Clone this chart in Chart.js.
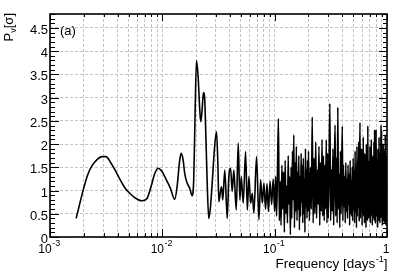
<!DOCTYPE html>
<html>
<head>
<meta charset="utf-8">
<script src="https://cdn.jsdelivr.net/npm/chart.js@4/dist/chart.umd.min.js"></script>
<style>
  html, body { margin: 0; padding: 0; background: #fff; }
</style>
</head>
<body>
<canvas id="chart" width="399" height="273"></canvas>
<script>
// smooth part of the periodogram (f < 0.1 d^-1)
const lowFreq = [
  0.00171, 0.00185, 0.00198, 0.00215, 0.00236, 0.00261, 0.00290, 0.00316, 0.00343, 0.00380,
  0.00422, 0.00467, 0.00518, 0.00574, 0.00659, 0.00730, 0.00793, 0.00849, 0.00916, 0.00994,
  0.01086, 0.01179, 0.01288, 0.01353, 0.01418, 0.01469, 0.01531, 0.01582, 0.01662, 0.01753,
  0.01841, 0.01902, 0.01942, 0.02012, 0.02083, 0.02153, 0.02198, 0.02260, 0.02323, 0.02386,
  0.02437, 0.02506, 0.02589, 0.02683, 0.02794, 0.02911, 0.03034, 0.03120, 0.03184, 0.0330,
  0.0337, 0.0345, 0.0360, 0.0378, 0.0391, 0.0405, 0.0419, 0.0433, 0.0455, 0.0474,
  0.0490, 0.0504, 0.0525, 0.0551, 0.0571, 0.0590, 0.0611, 0.0632, 0.0653, 0.0690,
  0.0724, 0.0750, 0.0776, 0.0802, 0.0830, 0.0855, 0.0880, 0.0910, 0.0940, 0.0970
];
const lowPower = [
  0.40, 0.74, 1.02, 1.32, 1.53, 1.66, 1.73, 1.73, 1.62, 1.44,
  1.23, 1.05, 0.93, 0.84, 0.78, 0.83, 1.08, 1.34, 1.48, 1.41,
  1.23, 1.05, 0.81, 1.08, 1.59, 1.80, 1.66, 1.37, 1.16, 1.05,
  0.89, 1.23, 2.24, 3.80, 3.45, 2.74, 2.48, 2.74, 3.11, 2.95,
  2.23, 1.20, 0.40, 0.65, 1.25, 1.90, 2.27, 1.60, 0.76, 1.00,
  1.08, 0.80, 1.44, 0.40, 1.30, 1.48, 0.98, 1.44, 0.58, 2.02,
  0.80, 1.30, 0.73, 1.84, 0.58, 1.30, 0.73, 0.94, 0.51, 1.73,
  0.37, 1.23, 0.73, 1.16, 0.60, 1.15, 0.55, 1.20, 0.70, 1.25
];

// noisy part (0.1 - 1 d^-1)
const highFreq = [
  0.100, 0.102, 0.104, 0.106, 0.108, 0.110, 0.112, 0.114, 0.116, 0.118,
  0.120, 0.122, 0.124, 0.126, 0.128, 0.130, 0.132, 0.134, 0.136, 0.138,
  0.140, 0.142, 0.144, 0.146, 0.148, 0.150, 0.152, 0.154, 0.156, 0.158,
  0.160, 0.162, 0.164, 0.166, 0.168, 0.170, 0.172, 0.174, 0.176, 0.178,
  0.180, 0.182, 0.184, 0.186, 0.188, 0.190, 0.192, 0.194, 0.196, 0.198,
  0.200, 0.204, 0.208, 0.212, 0.216, 0.220, 0.224, 0.228, 0.232, 0.236,
  0.240, 0.244, 0.248, 0.252, 0.256, 0.260, 0.264, 0.268, 0.272, 0.276,
  0.280, 0.284, 0.288, 0.292, 0.296,
  0.300, 0.305, 0.310, 0.315, 0.320, 0.325, 0.330, 0.335, 0.340, 0.345,
  0.350, 0.355, 0.360, 0.365, 0.370, 0.375, 0.380, 0.385, 0.390, 0.395,
  0.400, 0.405, 0.410, 0.415, 0.420, 0.425, 0.430, 0.435, 0.440, 0.445,
  0.450, 0.455, 0.460, 0.465, 0.470, 0.475, 0.480, 0.485, 0.490, 0.495,
  0.500, 0.505, 0.510, 0.515, 0.520, 0.525, 0.530, 0.535, 0.540, 0.545,
  0.550, 0.555, 0.560, 0.565, 0.570, 0.575, 0.580, 0.585, 0.590, 0.595,
  0.600, 0.605, 0.610, 0.615, 0.620, 0.625, 0.630, 0.635, 0.640, 0.645,
  0.650, 0.655, 0.660, 0.665, 0.670, 0.675, 0.680, 0.685, 0.690, 0.695,
  0.700, 0.705, 0.710, 0.715, 0.720, 0.725, 0.730, 0.735, 0.740, 0.745,
  0.750, 0.755, 0.760, 0.765, 0.770, 0.775, 0.780, 0.785, 0.790, 0.795,
  0.800, 0.805, 0.810, 0.815, 0.820, 0.825, 0.830, 0.835, 0.840, 0.845,
  0.850, 0.855, 0.860, 0.865, 0.870, 0.875, 0.880, 0.885, 0.890, 0.895,
  0.900, 0.905, 0.910, 0.915, 0.920, 0.925, 0.930, 0.935, 0.940, 0.945,
  0.950, 0.955, 0.960, 0.965, 0.970, 0.975, 0.980, 0.985, 0.990, 0.995,
  1.000
];
const highPower = [
  0.55, 1.30, 0.45, 1.45, 2.55, 0.35, 1.20, 0.25, 1.55, 0.60,
  1.40, 0.10, 1.65, 0.50, 1.10, 0.30, 1.75, 0.70, 1.30, 0.05,
  1.50, 0.40, 1.85, 0.80, 2.20, 0.20, 1.60, 0.55, 1.95, 0.35,
  1.40, 0.60, 1.75, 0.15, 1.30, 0.45, 1.80, 0.75, 1.55, 0.30,
  1.70, 0.50, 1.25, 0.10, 1.90, 0.65, 1.45, 0.40, 1.65, 0.55,
  1.85, 0.35, 1.50, 0.60, 2.58, 0.30, 1.70, 0.50, 2.05, 0.40,
  1.45, 0.70, 1.95, 0.25, 1.60, 0.55, 2.10, 0.45, 1.75, 0.35,
  1.55, 0.60, 2.09, 0.30, 1.80,
  0.40, 1.60, 2.87, 0.35, 1.45, 0.55, 1.90, 0.25, 1.50, 2.41,
  0.45, 1.70, 0.30, 2.79, 0.60, 1.35, 0.20, 1.85, 0.50, 1.40,
  2.38, 0.35, 1.55, 0.65, 1.30, 0.30, 1.60, 0.55, 1.25, 0.40,
  1.55, 0.70, 1.35, 0.25, 1.65, 0.50, 1.20, 0.45, 1.50, 0.35,
  1.70, 0.60, 1.40, 0.30, 1.85, 0.55, 1.30, 0.20, 1.95, 0.45,
  1.50, 0.65, 2.05, 0.35, 1.45, 2.46, 0.40, 1.60, 0.55, 1.90,
  0.25, 1.40, 0.70, 2.15, 0.45, 1.55, 0.30, 1.80, 0.60, 1.35,
  0.20, 2.00, 0.50, 1.45, 0.35, 2.39, 0.55, 1.65, 0.40, 1.25,
  0.65, 1.95, 0.30, 1.50, 0.45, 2.10, 0.60, 1.40, 0.25, 1.75,
  0.50, 1.30, 0.40, 2.05, 0.35, 2.31, 0.55, 1.60, 0.30, 1.45,
  2.31, 0.45, 1.70, 0.60, 1.35, 0.20, 1.90, 0.50, 1.55, 0.35,
  2.15, 0.65, 1.40, 0.30, 1.80, 0.45, 1.50, 2.41, 0.40, 2.30,
  0.55, 1.65, 0.25, 1.45, 0.60, 2.00, 0.35, 1.35, 0.50, 1.85,
  0.30, 1.55, 0.45, 2.20, 0.55, 1.40, 0.25, 1.75, 0.50, 1.60,
  0.70
];

const xMajor = [0.001, 0.01, 0.1, 1];
const xMajorLabels = [['10', '-3'], ['10', '-2'], ['10', '-1'], ['1', '']];
const yMajor = [0, 0.5, 1, 1.5, 2, 2.5, 3, 3.5, 4, 4.5];
const yMajorLabels = ['0', '0.5', '1', '1.5', '2', '2.5', '3', '3.5', '4', '4.5'];
const yMax = 4.8;

const FONT = "'Liberation Sans', Arial, Helvetica, sans-serif";

// every decade gets 1..9 grid lines
const xGrid = [];
for (let i = 0; i < xMajor.length - 1; i++) {
  for (let k = 1; k <= 9; k++) xGrid.push(xMajor[i] * k);
}
xGrid.push(xMajor[xMajor.length - 1]);

const points = lowFreq.map((f, i) => ({ x: f, y: lowPower[i] }))
  .concat(highFreq.map((f, i) => ({ x: f, y: highPower[i] })));

// ROOT-like frame: inward ticks on all four sides, labels with superscripts
const framePlugin = {
  id: 'frame',
  afterDraw(chart) {
    const { ctx, chartArea: a, scales: { x, y } } = chart;
    ctx.save();
    ctx.strokeStyle = '#000';

    ctx.lineWidth = 1;
    ctx.beginPath();
    xGrid.forEach((v) => {
      const px = Math.round(x.getPixelForValue(v)) + 0.5;
      const major = xMajor.includes(v);
      ctx.moveTo(px, a.bottom);
      ctx.lineTo(px, a.bottom - (major ? 8 : 4));
      ctx.moveTo(px, a.top);
      ctx.lineTo(px, a.top + (major ? 7 : 3));
    });
    for (let j = 0; j <= yMax * 10; j++) {
      const v = j / 10;
      const py = Math.round(y.getPixelForValue(v)) + 0.5;
      const major = j % 5 === 0;
      ctx.moveTo(a.left, py);
      ctx.lineTo(a.left + (major ? 9 : 5), py);
      ctx.moveTo(a.right, py);
      ctx.lineTo(a.right - (major ? 8 : 4), py);
    }
    ctx.stroke();

    ctx.lineWidth = 1.6;
    ctx.strokeRect(a.left, a.top, a.right - a.left, a.bottom - a.top);

    // y tick labels
    ctx.fillStyle = '#000';
    ctx.font = '13px ' + FONT;
    ctx.textAlign = 'right';
    ctx.textBaseline = 'alphabetic';
    yMajor.forEach((v, i) => {
      ctx.fillText(yMajorLabels[i], a.left - 2, y.getPixelForValue(v) + 6);
    });

    // x tick labels (10^n)
    xMajor.forEach((v, i) => {
      const [base, exp] = xMajorLabels[i];
      ctx.font = '12px ' + FONT;
      const wb = ctx.measureText(base).width;
      ctx.font = '9px ' + FONT;
      const we = exp ? ctx.measureText(exp).width : 0;
      const left = x.getPixelForValue(v) - (wb + we) / 2 - 1;
      ctx.textAlign = 'left';
      ctx.font = '12px ' + FONT;
      ctx.fillText(base, left, 253);
      if (exp) {
        ctx.font = '9px ' + FONT;
        ctx.fillText(exp, left + wb + 0.5, 246);
      }
    });

    // x title
    ctx.font = '13.5px ' + FONT;
    const tA = 'Frequency [days';
    const tB = ']';
    const wA = ctx.measureText(tA).width;
    const wB = ctx.measureText(tB).width;
    ctx.font = '9px ' + FONT;
    const wS = ctx.measureText('-1').width;
    let tx = a.right - (wA + wS + wB);
    ctx.font = '13.5px ' + FONT;
    ctx.fillText(tA, tx, 268);
    ctx.font = '9px ' + FONT;
    ctx.fillText('-1', tx + wA + 0.5, 262);
    ctx.font = '13.5px ' + FONT;
    ctx.fillText(tB, tx + wA + wS + 0.5, 268);

    // y title, rotated, ending at the top of the frame
    ctx.translate(13, 13);
    ctx.rotate(-Math.PI / 2);
    ctx.font = '13px ' + FONT;
    const wP = ctx.measureText('P').width;
    const wR = ctx.measureText('[σ]').width;
    ctx.font = '9px ' + FONT;
    const wN = ctx.measureText('ν').width;
    let u = -(wP + wN + wR);
    ctx.font = '13px ' + FONT;
    ctx.fillText('P', u, 0);
    ctx.font = '9px ' + FONT;
    ctx.fillText('ν', u + wP, 2.5);
    ctx.font = '13px ' + FONT;
    ctx.fillText('[σ]', u + wP + wN, 0);
    ctx.restore();

    // panel label
    ctx.save();
    ctx.font = '13px ' + FONT;
    ctx.fillStyle = '#000';
    ctx.textAlign = 'left';
    ctx.fillText('(a)', a.left + 10, 35);
    ctx.restore();
  }
};

new Chart(document.getElementById('chart'), {
  type: 'line',
  data: {
    datasets: [{
      data: points,
      borderColor: '#000',
      borderWidth: 1.6,
      pointRadius: 0,
      fill: false,
      cubicInterpolationMode: 'monotone'
    }]
  },
  options: {
    responsive: false,
    animation: false,
    events: [],
    layout: { padding: { left: 50, top: 14, right: 12, bottom: 36 } },
    plugins: { legend: { display: false }, tooltip: { enabled: false } },
    scales: {
      x: {
        type: 'logarithmic',
        min: 0.001,
        max: 1,
        afterBuildTicks: (s) => { s.ticks = xGrid.map((v) => ({ value: v })); },
        ticks: { display: false },
        grid: { color: '#c4c4c4', lineWidth: 1, drawTicks: false },
        border: { display: false, dash: [3, 2] }
      },
      y: {
        min: 0,
        max: yMax,
        afterBuildTicks: (s) => { s.ticks = yMajor.map((v) => ({ value: v })); },
        ticks: { display: false },
        grid: { color: '#c4c4c4', lineWidth: 1, drawTicks: false },
        border: { display: false, dash: [3, 2] }
      }
    }
  },
  plugins: [framePlugin]
});
</script>
</body>
</html>
